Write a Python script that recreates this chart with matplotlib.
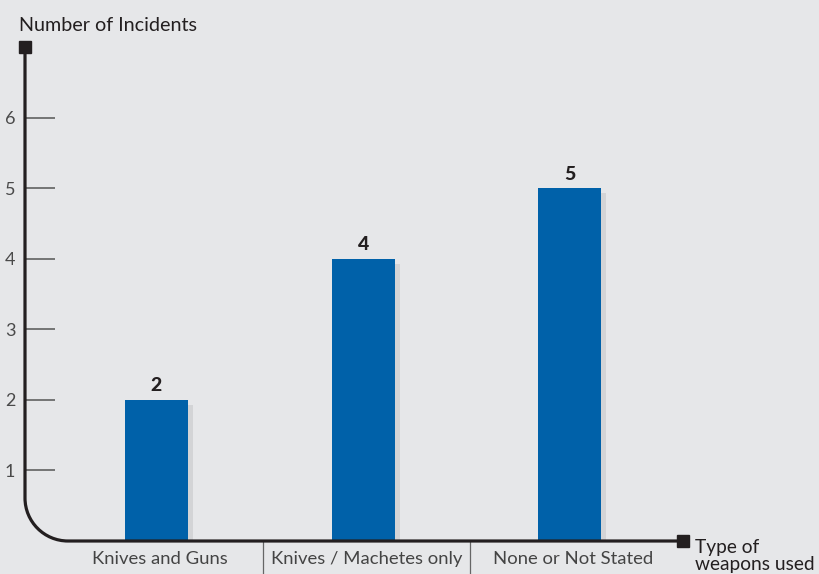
import matplotlib.pyplot as plt
from matplotlib.path import Path
from matplotlib.patches import PathPatch
from matplotlib.transforms import offset_copy, blended_transform_factory

plt.rcParams['font.family'] = ['Lato', 'DejaVu Sans']

# Data
categories = ['Knives and Guns', 'Knives / Machetes only', 'None or Not Stated']
incidents = [2, 4, 5]
yticks = [1, 2, 3, 4, 5, 6]

bg = '#e6e7e9'
bar_color = '#0061a9'
shadow_color = '#d3d4d6'
ink = '#231f20'

W, H = 819, 574
fig = plt.figure(figsize=(W / 100, H / 100), dpi=100, facecolor=bg)

# main plotting area in pixel units of the figure
left, right, base, top = 25, 677, 541, 47
ax = fig.add_axes([left / W, (H - base) / H, (right - left) / W, (base - top) / H])
ax.set_facecolor('none')
ax.set_xlim(-0.636, 2.518)
ax.set_ylim(0, 7)
for s in ax.spines.values():
    s.set_visible(False)

x = list(range(len(categories)))
width = 0.305

# drop shadow behind each bar
shadow_tr = offset_copy(ax.transData, fig=fig, x=5, y=-5, units='dots')
ax.bar(x, incidents, width=width, color=shadow_color, transform=shadow_tr, zorder=1)
ax.bar(x, incidents, width=width, color=bar_color, zorder=2)

for xi, v in zip(x, incidents):
    ax.annotate(str(v), (xi, v), xytext=(0, 4), textcoords='offset points',
                ha='center', va='bottom', fontsize=14, fontweight='black', color=ink)

ax.set_yticks(yticks)
ax.set_yticklabels([str(t) for t in yticks])
ax.tick_params(axis='y', direction='in', length=21.5, width=1.1, color='#555555',
               pad=7, labelsize=13, labelcolor='#4a4a4a')
ax.set_xticks([])

# category labels and separators under the axis
trans = blended_transform_factory(ax.transData, fig.transFigure)
for xi, lab in zip(x, categories):
    ax.text(xi + 0.015, (H - 559) / H, lab, transform=trans, ha='center', va='center',
            fontsize=13.3, color='#444444')
for sep in [0.515, 1.516]:
    ax.plot([sep, sep], [(H - base) / H, 0], transform=trans, color='#666666',
            lw=0.9, clip_on=False)

# overlay in figure pixels for the rounded axis line and titles
ov = fig.add_axes([0, 0, 1, 1])
ov.set_xlim(0, W)
ov.set_ylim(H, 0)
ov.axis('off')
ov.patch.set_alpha(0)

r = 43
k = 0.5523 * r
verts = [(left, top), (left, base - r),
         (left, base - r + k), (left + r - k, base), (left + r, base),
         (683, base)]
codes = [Path.MOVETO, Path.LINETO, Path.CURVE4, Path.CURVE4, Path.CURVE4, Path.LINETO]
ov.add_patch(PathPatch(Path(verts, codes), fill=False, lw=2.3, edgecolor=ink,
                       capstyle='butt', joinstyle='round', zorder=5))
ov.plot([left, 683], [top, base], 's', color=ink, markersize=8.6, zorder=6)

ov.text(19, 31, 'Number of Incidents', ha='left', va='baseline', fontsize=14.2, color=ink)
ov.text(695, 556, 'Type of\nweapons used', ha='left', va='center', fontsize=13.8,
        color=ink, linespacing=1.02)

fig.savefig('out.png', dpi=100, facecolor=bg)
